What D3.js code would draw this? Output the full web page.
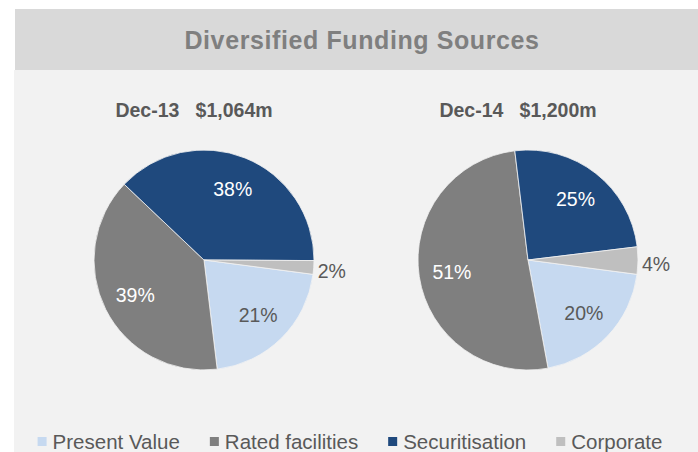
<!DOCTYPE html>
<html lang="en">
<head>
  <meta charset="UTF-8">
  <title>Diversified Funding Sources</title>
  <style>
    body { margin: 0; background: #fff; }
    svg { display: block; font-family: "Liberation Sans", Arial, sans-serif; }
  </style>
  <script src="https://d3js.org/d3.v7.min.js"></script>
</head>
<body>
  <svg id="chart" width="698" height="452"></svg>
  <script>
    // data
    const categories = ['Present Value', 'Rated facilities', 'Securitisation', 'Corporate'];
    const colors = ['#c6d9f0', '#7f7f7f', '#1f497d', '#bfbfbf'];
    const labelColors = ['#595959', '#ffffff', '#ffffff', '#595959'];
    const periods = ['Dec-13', 'Dec-14'];
    const totals = ['$1,064m', '$1,200m'];
    const dec13 = [21, 39, 38, 2];
    const dec14 = [20, 51, 25, 4];
    const seriesValues = [dec13, dec14];

    const W = 698, H = 452;
    const svg = d3.select('#chart');

    // panel + header band
    svg.append('rect').attr('x', 14).attr('y', 70).attr('width', W - 14).attr('height', H - 70).attr('fill', '#f2f2f2');
    svg.append('rect').attr('x', 15).attr('y', 9).attr('width', W - 15).attr('height', 61).attr('fill', '#d9d9d9');

    svg.append('text')
      .attr('x', 362).attr('y', 49)
      .attr('text-anchor', 'middle')
      .style('font-size', '25px').style('font-weight', 'bold')
      .style('letter-spacing', '0.6px')
      .attr('fill', '#7f7f7f')
      .text('Diversified Funding Sources');

    const radius = 110;
    const centers = d3.scalePoint().domain(periods).range([204, 528]);
    const deg = Math.PI / 180;
    const start = 97.5 * deg;

    const pie = d3.pie().sort(null).value(d => d.value)
      .startAngle(start).endAngle(start + 2 * Math.PI);
    const arc = d3.arc().innerRadius(0).outerRadius(radius);
    const labelArc = d3.arc().innerRadius(77).outerRadius(77);

    periods.forEach((p, i) => {
      const cx = centers(p), cy = 260;
      const g = svg.append('g').attr('transform', `translate(${cx},${cy})`);
      const data = categories.map((c, k) => ({ name: c, value: seriesValues[i][k], k }));
      const arcs = pie(data);

      g.selectAll('path')
        .data(arcs)
        .join('path')
        .attr('d', arc)
        .attr('fill', d => colors[d.data.k])
        .attr('stroke', '#f2f2f2')
        .attr('stroke-width', 0.8);

      g.selectAll('text.lbl')
        .data(arcs)
        .join('text')
        .attr('class', 'lbl')
        .each(function(d) {
          const t = d3.select(this);
          const small = d.data.value < 5;
          if (small) {
            const a = (d.startAngle + d.endAngle) / 2;
            const rr = radius + 4;
            t.attr('x', rr * Math.sin(a)).attr('y', -rr * Math.cos(a) + 3)
              .attr('text-anchor', 'start')
              .attr('fill', '#595959');
          } else {
            const [x, y] = labelArc.centroid(d);
            t.attr('x', x).attr('y', y)
              .attr('text-anchor', 'middle')
              .attr('fill', labelColors[d.data.k]);
          }
        })
        .attr('dominant-baseline', 'central')
        .style('font-size', '19.5px')
        .text(d => d.data.value + '%');

      svg.append('text')
        .attr('x', cx - 10).attr('y', 117)
        .attr('text-anchor', 'middle')
        .style('font-size', '19.5px').style('font-weight', 'bold')
        .style('white-space', 'pre')
        .attr('fill', '#595959')
        .text(p + '   ' + totals[i]);
    });

    // legend
    const legend = svg.append('g');
    let lx = 0;
    categories.forEach((c, k) => {
      const item = legend.append('g').attr('transform', `translate(${lx},0)`);
      item.append('rect').attr('x', 0).attr('y', 437).attr('width', 9).attr('height', 9).attr('fill', colors[k]);
      const t = item.append('text')
        .attr('x', 15).attr('y', 449)
        .style('font-size', '20.5px')
        .attr('fill', '#595959')
        .text(c);
      lx += 15 + t.node().getComputedTextLength() + 30;
    });
    const legendW = lx - 30;
    legend.attr('transform', `translate(${350 - legendW / 2},0)`);
  </script>
</body>
</html>
